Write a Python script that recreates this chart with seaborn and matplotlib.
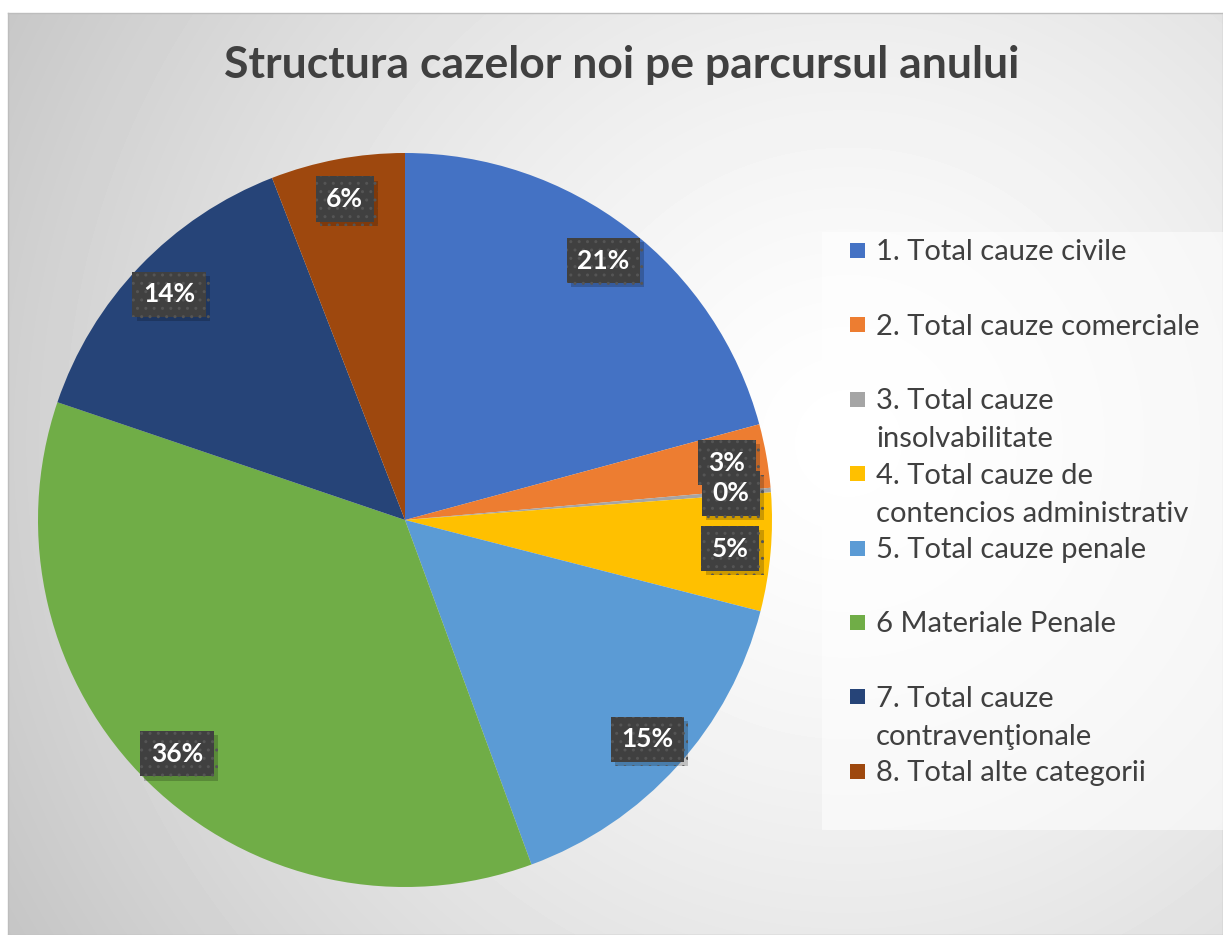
import numpy as np
import matplotlib
matplotlib.use("Agg")
import matplotlib.pyplot as plt
import matplotlib.patches as mpatches
import matplotlib.patheffects as pe
import seaborn as sns

# Date
categorii = [
    "1. Total cauze civile",
    "2. Total cauze comerciale",
    "3. Total cauze\ninsolvabilitate",
    "4. Total cauze de\ncontencios administrativ",
    "5. Total cauze penale",
    "6 Materiale Penale",
    "7. Total cauze\ncontravenţionale",
    "8. Total alte categorii",
]
valori = [20.8, 2.8, 0.2, 5.2, 15.4, 35.8, 13.9, 5.9]
culori = ["#4472C4", "#ED7D31", "#A5A5A5", "#FFC000",
          "#5B9BD5", "#70AD47", "#264478", "#9E480E"]

sns.set_style("white")
plt.rcParams["font.family"] = ["Lato", "DejaVu Sans"]

W, H = 1223, 935
fig = plt.figure(figsize=(W / 100, H / 100), dpi=100)
fig.patch.set_facecolor("white")

# Fundal cu gradient radial
x0, y0 = 8, 13
bw, bh = W - x0, H - y0
ax_bg = fig.add_axes([x0 / W, 0, bw / W, bh / H])
yy, xx = np.mgrid[0:bh, 0:bw]
d = np.sqrt((xx - 840) ** 2 + (yy - 430) ** 2) / 950.0
g = 1 - 0.22 * np.clip(d, 0, 1.1) ** 1.4
ax_bg.imshow(g, cmap="gray", vmin=0, vmax=1, aspect="auto",
             extent=(0, bw, bh, 0))
ax_bg.set_xticks([])
ax_bg.set_yticks([])
for s in ax_bg.spines.values():
    s.set_color("#bdbdbd")
    s.set_linewidth(1)

# Pie
cx, cy, r = 405, 520, 367
ax = fig.add_axes([(cx - r) / W, (H - cy - r) / H, 2 * r / W, 2 * r / H])
ax.set_facecolor("none")
wedges, _, autotexts = ax.pie(
    valori,
    colors=sns.color_palette(culori),
    startangle=90,
    counterclock=False,
    autopct="%1.0f%%",
    pctdistance=0.89,
    wedgeprops=dict(linewidth=0),
    textprops=dict(color="white", fontsize=19, fontweight="bold"),
)
ax.set_xlim(-1, 1)
ax.set_ylim(-1, 1)
for t in autotexts:
    t.set_bbox(dict(boxstyle="square,pad=0.4", facecolor="#404040",
                    edgecolor="#555555", linewidth=0, hatch=".."))
    t.get_bbox_patch().set_path_effects(
        [pe.withSimplePatchShadow(offset=(3, -3), shadow_rgbFace="#000000", alpha=0.2)])
    t.set_zorder(5)

# Titlu
fig.text(622 / W, 1 - 65 / H, "Structura cazelor noi pe parcursul anului",
         ha="center", va="center", fontsize=32, fontweight="bold",
         color="#404040")

# Legenda (manual, ca in Excel)
fig.patches.append(mpatches.Rectangle((822 / W, 1 - 830 / H), (W - 822) / W,
                                      (830 - 232) / H, transform=fig.transFigure,
                                      facecolor="white", alpha=0.55,
                                      edgecolor="none", zorder=1))
for i, (lab, c) in enumerate(zip(categorii, culori)):
    yc = 250 + 74.4 * i
    fig.patches.append(mpatches.Rectangle((850 / W, 1 - (yc + 8) / H), 15 / W,
                                          15 / H, transform=fig.transFigure,
                                          facecolor=c, edgecolor="none",
                                          zorder=3))
    for j, linie in enumerate(lab.split("\n")):
        fig.text(876 / W, 1 - (yc + 38 * j) / H, linie, ha="left",
                 va="center_baseline", fontsize=21, color="#404040", zorder=3)

fig.savefig("out.png", dpi=100)
